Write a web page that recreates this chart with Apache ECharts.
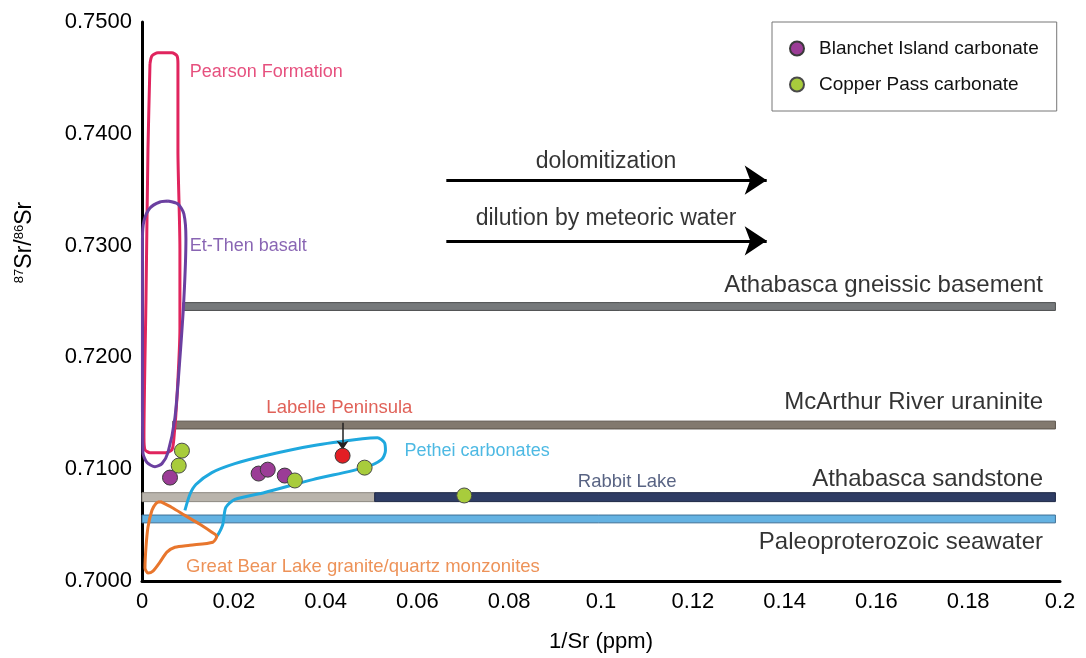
<!DOCTYPE html>
<html>
<head>
<meta charset="utf-8">
<title>Sr isotopes</title>
<script src="https://cdn.jsdelivr.net/npm/echarts@6/dist/echarts.min.js"></script>
<style>
  html, body { margin: 0; padding: 0; background: #fff; }
  #chart { width: 1086px; height: 658px; }
</style>
</head>
<body>
<div id="chart"></div>
<script>
// tick labels
const xTicks = [0, 0.02, 0.04, 0.06, 0.08, 0.1, 0.12, 0.14, 0.16, 0.18, 0.2];
const yTicks = [0.7000, 0.7100, 0.7200, 0.7300, 0.7400, 0.7500];

// sample points [1/Sr, 87Sr/86Sr]
const blanchet = [[0.0061, 0.70925], [0.0254, 0.70961], [0.0274, 0.70996], [0.0311, 0.70943]];
const copperPass = [[0.0087, 0.71166], [0.0080, 0.71032], [0.0333, 0.70899], [0.0485, 0.71014], [0.0702, 0.70765]];
const labelle = [[0.0437, 0.71121]];

// reference bands: [x from, x to, y low, y high]
const bandNames = ['Athabasca gneissic basement', 'McArthur River uraninite', 'Athabasca sandstone', 'Rabbit Lake', 'Paleoproterozoic seawater'];
const bands = [
  [0.0089, 0.199, 0.7242, 0.7249],
  [0.0067, 0.199, 0.7136, 0.7143],
  [0.0, 0.0507, 0.7071, 0.7079],
  [0.0507, 0.199, 0.7071, 0.7079],
  [0.0, 0.199, 0.7052, 0.7059]
];

// field outlines
const pearson = [[0.00174, 0.74626], [0.00217, 0.74698], [0.00348, 0.74724], [0.00652, 0.74724], [0.00761, 0.74698],
  [0.00783, 0.74626], [0.00783, 0.73861], [0.00826, 0.72972], [0.00826, 0.7226], [0.00761, 0.71637],
  [0.00696, 0.71281], [0.00652, 0.71174], [0.00522, 0.71148], [0.00174, 0.71148], [0.00065, 0.71174],
  [0.00043, 0.71281], [0.00087, 0.72527], [0.0013, 0.73861], [0.00174, 0.74626]];
const etThen = [[0.00565, 0.73399], [0.00783, 0.73372], [0.00913, 0.73283], [0.00957, 0.7306], [0.00913, 0.72527],
  [0.00826, 0.71993], [0.00717, 0.71459], [0.00565, 0.71148], [0.00435, 0.7105], [0.00283, 0.71023],
  [0.00109, 0.71059], [0.0002, 0.71148], [0.0001, 0.71637], [0.0001, 0.7306], [0.00043, 0.73221],
  [0.00174, 0.73336], [0.00391, 0.7339], [0.00565, 0.73399]];
const pethei = [[0.00935, 0.70632], [0.01043, 0.70774], [0.01174, 0.70863], [0.01522, 0.7097], [0.02022, 0.7105],
  [0.02674, 0.71121], [0.03717, 0.7121], [0.04804, 0.71272], [0.0513, 0.71281], [0.05283, 0.71237],
  [0.05304, 0.71165], [0.05217, 0.71085], [0.04848, 0.71014], [0.03717, 0.70907], [0.02674, 0.70792],
  [0.02022, 0.7073], [0.01826, 0.70658], [0.01761, 0.70507], [0.01674, 0.70427], [0.01609, 0.70391]];
const greatBear = [[0.00391, 0.70712], [0.00652, 0.70658], [0.00935, 0.70587], [0.01261, 0.70507], [0.01522, 0.70436],
  [0.0163, 0.704], [0.01543, 0.70347], [0.01043, 0.7032], [0.00717, 0.70302], [0.00543, 0.70258],
  [0.00391, 0.70169], [0.00239, 0.70089], [0.0013, 0.70071], [0.00065, 0.70116], [0.00087, 0.70302],
  [0.0013, 0.7048], [0.00217, 0.70632], [0.00304, 0.70694], [0.00391, 0.70712]];

// trend arrows and pointer
const trendArrows = [
  [[0.0663, 0.73585], [0.1361, 0.73585]],
  [[0.0663, 0.73043], [0.1361, 0.73043]]
];
const labellePointer = [[0.0437, 0.71415], [0.0437, 0.71174]];

// annotation texts
const noteText = ['Pearson Formation', 'Et-Then basalt', 'Labelle Peninsula', 'Pethei carbonates', 'Rabbit Lake',
  'Great Bear Lake granite/quartz monzonites', 'Athabasca gneissic basement', 'McArthur River uraninite',
  'Athabasca sandstone', 'Paleoproterozoic seawater', 'dolomitization', 'dilution by meteoric water'];
const noteX = [0.0104, 0.0104, 0.043, 0.0572, 0.1057, 0.0096, 0.1963, 0.1963, 0.1963, 0.1963, 0.1011, 0.1011];
const noteY = [0.74555, 0.72998, 0.71548, 0.71166, 0.70889, 0.70124, 0.72642, 0.71601, 0.70907, 0.70347, 0.73754, 0.73238];

// styles
const FONT = 'Liberation Sans, Arial, sans-serif';
const bandFill = ['#76797b', '#82796e', '#b9b4ac', '#2e3c64', '#64b2e2'];
const bandEdge = ['#4d4f50', '#5a5249', '#8c877f', '#1c2644', '#3d6f96'];
const noteColor = ['#e0245e', '#6b3fa0', '#d83a2e', '#21a7dc', '#2e3c64', '#e8772e',
  '#000', '#000', '#000', '#000', '#000', '#000'];
const noteSize = [18, 18, 18.5, 18, 18.5, 18.5, 24, 24, 24, 24, 23, 23];
const notePos = ['right', 'right', 'inside', 'right', 'inside', 'right', 'left', 'left', 'left', 'left', 'inside', 'inside'];

const chart = echarts.init(document.getElementById('chart'));

function outline(name, data, color) {
  return {
    name: name,
    type: 'line',
    data: data,
    smooth: 0.25,
    symbol: 'none',
    silent: true,
    z: 3,
    lineStyle: { color: color, width: 3 }
  };
}

const option = {
  animation: false,
  backgroundColor: '#fff',
  textStyle: { fontFamily: FONT },
  grid: { left: 142, right: 26, top: 22, bottom: 71 },
  legend: {
    data: ['Blanchet Island carbonate', 'Copper Pass carbonate'],
    orient: 'vertical',
    left: 772,
    top: 22,
    padding: [17, 18, 17, 17],
    itemGap: 17,
    itemWidth: 14,
    itemHeight: 14,
    borderColor: '#777',
    borderWidth: 1,
    backgroundColor: '#fff',
    textStyle: { fontSize: 19, color: '#111', fontFamily: FONT, padding: [0, 0, 0, 10] }
  },
  xAxis: {
    type: 'value',
    min: xTicks[0],
    max: xTicks[xTicks.length - 1],
    interval: 0.02,
    name: '1/Sr (ppm)',
    nameLocation: 'middle',
    nameGap: 50,
    nameTextStyle: { fontSize: 22, color: '#000', fontFamily: FONT },
    axisLine: { onZero: false, lineStyle: { color: '#000', width: 3 } },
    axisTick: { show: false },
    splitLine: { show: false },
    axisLabel: { fontSize: 22, color: '#000', margin: 10, fontFamily: FONT }
  },
  yAxis: {
    type: 'value',
    min: yTicks[0],
    max: yTicks[yTicks.length - 1],
    interval: 0.01,
    name: '{sup|87}{b|Sr/}{sup|86}{b|Sr}',
    nameLocation: 'middle',
    nameRotate: 90,
    nameGap: 106,
    nameTextStyle: {
      padding: [0, 0, 0, 118],
      rich: {
        b: { fontSize: 23, color: '#000', fontFamily: FONT },
        sup: { fontSize: 13, color: '#000', fontFamily: FONT, verticalAlign: 'top' }
      }
    },
    axisLine: { onZero: false, lineStyle: { color: '#000', width: 3 } },
    axisTick: { show: false },
    splitLine: { show: false },
    axisLabel: { fontSize: 22, color: '#000', margin: 10, fontFamily: FONT, formatter: v => v.toFixed(4) }
  },
  series: [
    {
      name: 'bands',
      type: 'custom',
      silent: true,
      z: 1,
      data: bands.map((b, i) => ({ name: bandNames[i], value: b })),
      encode: { x: [0, 1], y: [2, 3] },
      renderItem: function (params, api) {
        const p0 = api.coord([api.value(0), api.value(3)]);
        const p1 = api.coord([api.value(1), api.value(2)]);
        return {
          type: 'rect',
          shape: { x: p0[0], y: p0[1], width: p1[0] - p0[0], height: p1[1] - p0[1] },
          style: { fill: bandFill[params.dataIndex], stroke: bandEdge[params.dataIndex], lineWidth: 1 }
        };
      }
    },
    outline('Pearson Formation', pearson, '#e0245e'),
    outline('Et-Then basalt', etThen, '#6b3fa0'),
    outline('Pethei carbonates', pethei, '#1fa8de'),
    outline('Great Bear Lake', greatBear, '#e8762d'),
    {
      name: 'arrows',
      type: 'lines',
      coordinateSystem: 'cartesian2d',
      silent: true,
      z: 4,
      symbol: ['none', 'arrow'],
      symbolSize: [0, 22],
      lineStyle: { color: '#000', width: 3, opacity: 1 },
      data: trendArrows.map(c => ({ coords: c }))
    },
    {
      name: 'pointer',
      type: 'lines',
      coordinateSystem: 'cartesian2d',
      silent: true,
      z: 4,
      symbol: ['none', 'arrow'],
      symbolSize: [0, 9],
      lineStyle: { color: '#222', width: 1.5, opacity: 1 },
      data: [{ coords: labellePointer }]
    },
    {
      name: 'Blanchet Island carbonate',
      type: 'scatter',
      z: 5,
      symbolSize: 15,
      data: blanchet,
      itemStyle: { color: '#9b3c96', borderColor: '#3a3a3a', borderWidth: 1, opacity: 1 }
    },
    {
      name: 'Copper Pass carbonate',
      type: 'scatter',
      z: 5,
      symbolSize: 15,
      data: copperPass,
      itemStyle: { color: '#a8cc3c', borderColor: '#4a4a4a', borderWidth: 1, opacity: 1 }
    },
    {
      name: 'Labelle Peninsula',
      type: 'scatter',
      z: 5,
      symbolSize: 15,
      data: labelle,
      itemStyle: { color: '#e31e24', borderColor: '#3a3a3a', borderWidth: 1, opacity: 1 }
    },
    {
      name: 'notes',
      type: 'scatter',
      silent: true,
      z: 6,
      symbolSize: 0,
      data: noteText.map((t, i) => ({
        name: t,
        value: [noteX[i], noteY[i]],
        label: {
          show: true,
          formatter: t,
          position: notePos[i],
          distance: 0,
          color: noteColor[i],
          fontSize: noteSize[i],
          fontFamily: FONT
        }
      }))
    }
  ]
};

chart.setOption(option);
</script>
</body>
</html>
